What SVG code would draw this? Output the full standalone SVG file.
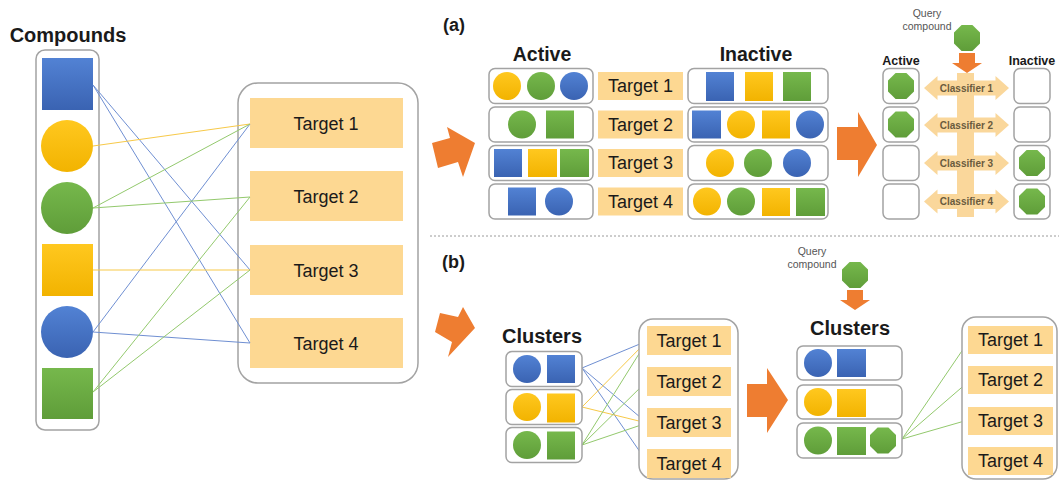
<svg xmlns="http://www.w3.org/2000/svg" width="1059" height="481" viewBox="0 0 1059 481">
<style>
text{font-family:"Liberation Sans",Arial,sans-serif;fill:#1a1a1a}
.t{font-size:18px;text-anchor:middle}
.h{font-size:20px;font-weight:bold;text-anchor:middle}
.hs{font-size:12.5px;font-weight:bold;text-anchor:middle}
.q{font-size:10.5px;fill:#555;text-anchor:middle}
.cl{font-size:10px;font-weight:bold;fill:#6b5b3e;text-anchor:middle}
.box{fill:#fff;stroke:#a3a3a3;stroke-width:1.5}
.tg{fill:#FDD892}
.B{fill:url(#gb)}
.Y{fill:url(#gy)}
.G{fill:url(#gg)}
.or{fill:#EE7D31}
.ca{fill:#FAD79B}
.lb{stroke:#6f8fd2;stroke-width:1;fill:none}
.ly{stroke:#f7c948;stroke-width:1;fill:none}
.lg{stroke:#93c96d;stroke-width:1;fill:none}
</style>
<defs>
<linearGradient id="gb" x1="0" y1="0" x2="0" y2="1"><stop offset="0" stop-color="#5282d4"/><stop offset="1" stop-color="#3a63b2"/></linearGradient>
<linearGradient id="gy" x1="0" y1="0" x2="0" y2="1"><stop offset="0" stop-color="#ffc81f"/><stop offset="1" stop-color="#f2b300"/></linearGradient>
<linearGradient id="gg" x1="0" y1="0" x2="0" y2="1"><stop offset="0" stop-color="#76b84c"/><stop offset="1" stop-color="#5f9d39"/></linearGradient>
<polygon id="oct" points="5.4,-13 13,-5.4 13,5.4 5.4,13 -5.4,13 -13,5.4 -13,-5.4 -5.4,-13"/>
<path id="dbl" d="M-42.5,0 L-29,-12 L-29,-7.5 L29,-7.5 L29,-12 L42.5,0 L29,12 L29,7.5 L-29,7.5 L-29,12 Z"/>
</defs>

<!-- Left: compounds -->
<g id="compounds">
<text x="68" y="42" class="h">Compounds</text>
<rect x="36" y="50" width="63" height="380" rx="9" class="box"/>
<rect x="42" y="58" width="51" height="52" class="B"/>
<circle cx="67" cy="146" r="26" class="Y"/>
<circle cx="67" cy="208" r="26" class="G"/>
<rect x="42" y="244" width="51" height="52" class="Y"/>
<circle cx="67" cy="332" r="26" class="B"/>
<rect x="42" y="368" width="51" height="51" class="G"/>
</g>

<g id="targets-left">
<rect x="238" y="83" width="180" height="300" rx="20" class="box"/>
<rect x="250" y="98" width="153" height="50" class="tg"/>
<text x="326" y="129.5" class="t">Target 1</text>
<rect x="250" y="171" width="153" height="50" class="tg"/>
<text x="326" y="202.5" class="t">Target 2</text>
<rect x="250" y="245" width="153" height="50" class="tg"/>
<text x="326" y="276.5" class="t">Target 3</text>
<rect x="250" y="318" width="153" height="50" class="tg"/>
<text x="326" y="349.5" class="t">Target 4</text>
</g>

<g id="connectors">
<path class="lb" d="M93,85 L250,270 M93,85 L250,343 M93,332 L250,124 M93,332 L250,343"/>
<path class="ly" d="M93,146 L250,124 M93,270 L250,270"/>
<path class="lg" d="M93,208 L250,124 M93,208 L250,197 M93,392 L250,197 M93,392 L250,270"/>
<path class="lb" d="M582,368 L647,341 M582,368 L647,423 M582,368 L647,462"/>
<path class="ly" d="M582,407 L647,341 M582,407 L647,423"/>
<path class="lg" d="M582,445 L647,341 M582,445 L647,381 M582,445 L647,423"/>
<path class="lg" d="M902,439 L968,342 M902,439 L968,382 M902,439 L968,420"/>
</g>

<!-- big arrows -->
<g id="arrows">
<polygon class="or" points="432,143 450,138 447,127 475,143 463,177 458,162 438,168"/>
<polygon class="or" points="440,313 458,317 463,307 475,328 448,357 452,342 435,332"/>
<polygon class="or" points="837,127 858,127 858,112 877,145 858,177 858,160 837,160"/>
<polygon class="or" points="747,384 767,384 767,368 788,400 767,433 767,417 747,417"/>
</g>

<line x1="430" y1="236" x2="1059" y2="236" stroke="#9a9a9a" stroke-width="1" stroke-dasharray="2,2"/>

<!-- (a) -->
<g id="panel-a">
<text x="443" y="31" style="font-size:18px;font-weight:bold">(a)</text>
<text x="542" y="61" class="h" style="font-size:19.5px">Active</text>
<text x="756" y="61" class="h" style="font-size:19.5px">Inactive</text>
</g>

<g id="a-row1">
<rect x="489" y="68.5" width="104" height="35" rx="6" class="box"/>
<circle cx="507" cy="86" r="14" class="Y"/>
<circle cx="541" cy="86" r="14" class="G"/>
<circle cx="574" cy="86" r="14" class="B"/>
<rect x="598" y="72" width="85" height="28" class="tg"/>
<text x="640.5" y="92.3" class="t">Target 1</text>
<rect x="688" y="68.5" width="140" height="35" rx="6" class="box"/>
<rect x="706" y="72" width="28" height="29" class="B"/>
<rect x="745" y="72" width="28" height="29" class="Y"/>
<rect x="783" y="72" width="28" height="29" class="G"/>
</g>

<g id="a-row2">
<rect x="489" y="107" width="104" height="35" rx="6" class="box"/>
<circle cx="522" cy="124.5" r="14" class="G"/>
<rect x="546" y="110.5" width="28" height="28" class="G"/>
<rect x="598" y="110.5" width="85" height="28" class="tg"/>
<text x="640.5" y="130.8" class="t">Target 2</text>
<rect x="688" y="107" width="140" height="35" rx="6" class="box"/>
<rect x="692" y="110.5" width="29" height="28" class="B"/>
<circle cx="741" cy="124.5" r="14" class="Y"/>
<rect x="762" y="110.5" width="28" height="28" class="Y"/>
<circle cx="810" cy="124.5" r="14" class="B"/>
</g>

<g id="a-row3">
<rect x="489" y="145.5" width="104" height="35" rx="6" class="box"/>
<rect x="494" y="149" width="28" height="28" class="B"/>
<rect x="528" y="149" width="29" height="28" class="Y"/>
<rect x="560" y="149" width="29" height="28" class="G"/>
<rect x="598" y="149" width="85" height="28" class="tg"/>
<text x="640.5" y="169.3" class="t">Target 3</text>
<rect x="688" y="145.5" width="140" height="35" rx="6" class="box"/>
<circle cx="720" cy="163" r="14" class="Y"/>
<circle cx="758" cy="163" r="14" class="G"/>
<circle cx="797" cy="163" r="14" class="B"/>
</g>

<g id="a-row4">
<rect x="489" y="184" width="104" height="35" rx="6" class="box"/>
<rect x="508" y="187.5" width="28" height="28" class="B"/>
<circle cx="559" cy="201.5" r="14" class="B"/>
<rect x="598" y="187.5" width="85" height="28" class="tg"/>
<text x="640.5" y="207.8" class="t">Target 4</text>
<rect x="688" y="184" width="140" height="35" rx="6" class="box"/>
<circle cx="707" cy="201.5" r="14" class="Y"/>
<circle cx="741" cy="201.5" r="14" class="G"/>
<rect x="762" y="188" width="28" height="28" class="Y"/>
<rect x="796" y="188" width="29" height="28" class="G"/>
</g>

<!-- (a) classifiers -->
<g id="a-query">
<text x="927" y="17" class="q">Query</text>
<text x="927" y="30" class="q">compound</text>
<use href="#oct" x="967" y="38" class="G"/>
<polygon class="or" points="959,53 975,53 975,63 982,63 967,73 952,63 959,63"/>
<text x="901" y="65" class="hs">Active</text>
<text x="1032" y="65" class="hs">Inactive</text>
</g>

<g id="classifiers">
<rect x="957" y="73" width="17" height="144" class="ca"/>
<use href="#dbl" x="966.5" y="88" class="ca"/>
<use href="#dbl" x="966.5" y="125" class="ca"/>
<use href="#dbl" x="966.5" y="163" class="ca"/>
<use href="#dbl" x="966.5" y="201.5" class="ca"/>
<text x="966.5" y="91.5" class="cl">Classifier 1</text>
<text x="966.5" y="128.5" class="cl">Classifier 2</text>
<text x="966.5" y="166.5" class="cl">Classifier 3</text>
<text x="966.5" y="205" class="cl">Classifier 4</text>
</g>

<g id="a-results">
<rect x="883" y="68.5" width="36" height="35" rx="6" class="box"/>
<rect x="883" y="107" width="36" height="35" rx="6" class="box"/>
<rect x="883" y="145.5" width="36" height="35" rx="6" class="box"/>
<rect x="883" y="184" width="36" height="35" rx="6" class="box"/>
<rect x="1014" y="68.5" width="36" height="35" rx="6" class="box"/>
<rect x="1014" y="107" width="36" height="35" rx="6" class="box"/>
<rect x="1014" y="145.5" width="36" height="35" rx="6" class="box"/>
<rect x="1014" y="184" width="36" height="35" rx="6" class="box"/>
<use href="#oct" x="901" y="86" class="G"/>
<use href="#oct" x="901" y="124.5" class="G"/>
<use href="#oct" x="1032" y="163" class="G"/>
<use href="#oct" x="1032" y="201.5" class="G"/>
</g>

<!-- (b) -->
<g id="panel-b">
<text x="442" y="268" style="font-size:18px;font-weight:bold">(b)</text>
<text x="542" y="343" class="h">Clusters</text>
</g>

<g id="b-clusters">
<rect x="506" y="351.5" width="76" height="35" rx="6" class="box"/>
<circle cx="527" cy="369" r="14" class="B"/>
<rect x="547" y="355" width="28" height="28" class="B"/>
<rect x="506" y="389.5" width="76" height="35" rx="6" class="box"/>
<circle cx="527" cy="407" r="14" class="Y"/>
<rect x="547" y="393.5" width="28" height="29" class="Y"/>
<rect x="506" y="427.5" width="76" height="35" rx="6" class="box"/>
<circle cx="527" cy="445" r="14" class="G"/>
<rect x="547" y="431.5" width="28" height="28" class="G"/>
</g>

<g id="b-targets">
<rect x="639" y="319" width="99" height="160" rx="14" class="box"/>
<rect x="647" y="326" width="84" height="29" class="tg"/>
<text x="689" y="346.8" class="t">Target 1</text>
<rect x="647" y="367" width="84" height="29" class="tg"/>
<text x="689" y="387.8" class="t">Target 2</text>
<rect x="647" y="408" width="84" height="29" class="tg"/>
<text x="689" y="428.8" class="t">Target 3</text>
<rect x="647" y="449" width="84" height="29" class="tg"/>
<text x="689" y="469.8" class="t">Target 4</text>
</g>

<g id="b-query">
<text x="812" y="255" class="q">Query</text>
<text x="812" y="268" class="q">compound</text>
<use href="#oct" x="855" y="275" class="G"/>
<polygon class="or" points="847,290 863,290 863,300 870,300 855,310 840,300 847,300"/>
<text x="850" y="335" class="h">Clusters</text>
</g>

<g id="b-clusters2">
<rect x="797" y="346" width="105" height="34" rx="6" class="box"/>
<circle cx="818" cy="363" r="14" class="B"/>
<rect x="837" y="349" width="29" height="28" class="B"/>
<rect x="797" y="385" width="105" height="34" rx="6" class="box"/>
<circle cx="818" cy="402" r="14" class="Y"/>
<rect x="837" y="389" width="29" height="28" class="Y"/>
<rect x="797" y="423" width="105" height="35" rx="6" class="box"/>
<circle cx="818" cy="440.5" r="14" class="G"/>
<rect x="837" y="427" width="29" height="28" class="G"/>
<use href="#oct" x="883" y="440.5" class="G"/>
</g>

<g id="b-targets2">
<rect x="962" y="317" width="95" height="162" rx="14" class="box"/>
<rect x="968" y="326" width="85" height="28" class="tg"/>
<text x="1010.5" y="346.3" class="t">Target 1</text>
<rect x="968" y="366" width="85" height="28" class="tg"/>
<text x="1010.5" y="386.3" class="t">Target 2</text>
<rect x="968" y="407" width="85" height="28" class="tg"/>
<text x="1010.5" y="427.3" class="t">Target 3</text>
<rect x="968" y="447" width="85" height="28" class="tg"/>
<text x="1010.5" y="467.3" class="t">Target 4</text>
</g>
</svg>
